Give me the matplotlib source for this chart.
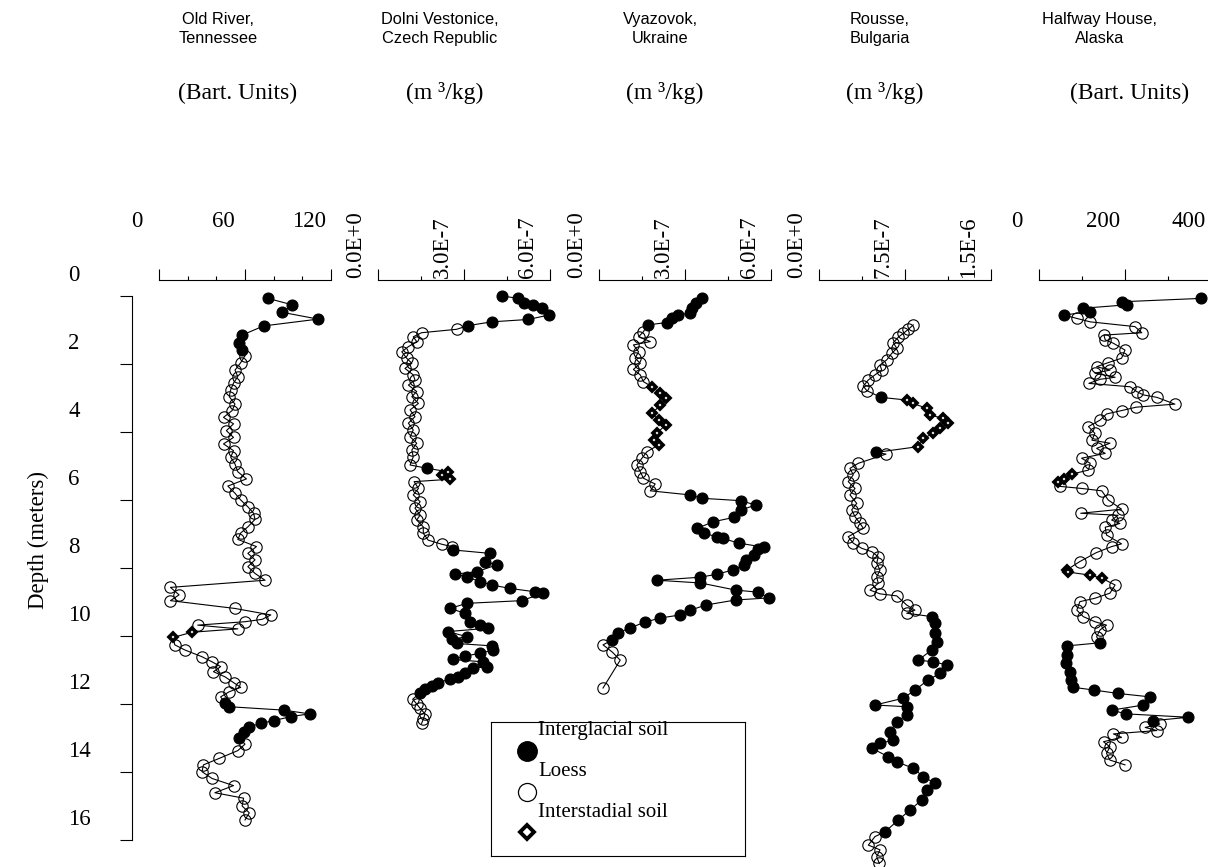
import matplotlib.pyplot as plt
from matplotlib.ticker import MultipleLocator
from matplotlib.transforms import ScaledTranslation

plt.rcParams['font.family'] = 'Liberation Serif'

W, H = 1208, 867

# kind codes: G = interglacial soil, L = loess, S = interstadial soil
old_depth = [0.07, 0.26, 0.48, 0.68, 0.88, 1.15, 1.37, 1.59,
             1.76, 1.96, 2.18, 2.37, 2.56, 2.76, 2.96, 3.18, 3.37, 3.57,
             3.76, 3.96, 4.16, 4.35, 4.55, 4.74, 4.94, 5.17, 5.38, 5.59,
             5.80, 6.00, 6.20, 6.39, 6.57, 6.79, 6.97, 7.16, 7.37, 7.57,
             7.76, 7.96, 8.16, 8.36,
             8.57, 8.79, 8.96, 9.19, 9.38, 9.51, 9.58, 9.68, 9.79,
             9.89, 10.04,
             10.26, 10.41, 10.61, 10.76, 10.90, 11.05, 11.20, 11.37, 11.51, 11.64, 11.79,
             11.98, 12.08, 12.18, 12.29, 12.37, 12.49, 12.57, 12.67, 12.81, 13.01,
             13.18, 13.37, 13.60, 13.79, 13.99, 14.19, 14.40, 14.61, 14.77, 15.00, 15.20, 15.41]
old_value = [76, 93, 86, 111, 73, 58, 56, 58,
             60, 57, 53, 55, 52, 50, 49, 53, 51, 45,
             52, 47, 52, 45, 52, 50, 53, 55, 61, 48,
             53, 57, 62, 66, 67, 62, 57, 55, 68, 62,
             67, 62, 67, 74,
             8, 14, 8, 53, 78, 72, 60, 27, 55,
             23, 10,
             11, 18, 30, 37, 43, 38, 46, 52, 57, 49, 43,
             46, 49, 87, 105, 92, 80, 71, 63, 59, 56,
             60, 55, 42, 31, 30, 37, 52, 39, 59, 58, 63, 60]
old_kind = "G" * 8 + "L" * 43 + "S" * 2 + "L" * 11 + "G" * 10 + "L" * 12

# magnetic susceptibility in units of 1E-7 m3/kg
dolni_depth = [0.00, 0.07, 0.20, 0.26, 0.36, 0.56, 0.69, 0.76, 0.87,
               0.98, 1.08, 1.20, 1.34, 1.49, 1.64, 1.83, 1.98, 2.13, 2.32,
               2.47, 2.62, 2.81, 2.96, 3.16, 3.35, 3.55, 3.74, 3.94, 4.14,
               4.33, 4.53, 4.73, 4.97,
               5.07,
               5.17, 5.26, 5.39,
               5.46, 5.66, 5.85, 6.05, 6.24, 6.44, 6.59, 6.79, 6.98, 7.18, 7.30, 7.37,
               7.47, 7.57, 7.81, 7.91, 8.11, 8.18, 8.26, 8.40, 8.50, 8.60,
               8.70, 8.74, 8.96, 9.04, 9.19, 9.33, 9.58, 9.68, 9.77, 9.87,
               10.02, 10.10, 10.22, 10.29, 10.41, 10.51, 10.59, 10.69, 10.76, 10.90,
               10.95, 11.10, 11.20, 11.27, 11.37, 11.47, 11.57, 11.67,
               11.86, 12.00, 12.13, 12.29, 12.45, 12.57]
dolni_chi = [4.34, 4.89, 5.09, 5.42, 5.71, 5.96, 5.24, 3.97, 3.15,
             2.74, 1.52, 1.23, 1.35, 1.06, 0.83, 1.00, 1.18, 0.94, 1.23,
             1.29, 1.06, 1.35, 1.18, 1.41, 1.12, 1.29, 1.06, 1.23, 1.12,
             1.35, 1.18, 1.23, 1.12,
             1.72,
             2.45, 2.22, 2.51,
             1.26, 1.41, 1.23, 1.47, 1.29, 1.47, 1.35, 1.58, 1.58, 1.75, 2.22, 2.57,
             2.63, 3.91, 3.73, 4.14, 3.44, 2.69, 3.09, 3.56, 3.97, 4.60,
             5.48, 5.77, 5.01, 3.09, 2.51, 3.03, 3.21, 3.56, 3.85, 2.45,
             3.09, 2.57, 2.74, 3.97, 4.02, 3.56, 3.03, 2.63, 3.67, 3.79,
             3.32, 3.03, 2.80, 2.51, 2.10, 1.87, 1.64, 1.47,
             1.21, 1.35, 1.47, 1.64, 1.58, 1.52]
dolni_kind = "G" * 9 + "L" * 24 + "G" + "S" * 3 + "L" * 12 + "G" * 38 + "L" * 6

vyaz_depth = [0.07, 0.20, 0.36, 0.51, 0.56, 0.66, 0.78, 0.85,
              1.05, 1.20, 1.34, 1.44, 1.64, 1.83, 1.98, 2.16, 2.32, 2.52,
              2.67, 2.86, 3.01, 3.21, 3.45, 3.65, 3.79, 4.04, 4.24, 4.38,
              4.58, 4.77, 4.97, 5.17, 5.36, 5.53, 5.73,
              5.85, 5.95, 6.02, 6.15, 6.29, 6.51, 6.64, 6.83, 6.98, 7.08,
              7.13, 7.27, 7.39, 7.45, 7.62, 7.76, 7.91, 8.06, 8.18, 8.27,
              8.36, 8.44, 8.65, 8.71, 8.88, 8.94, 9.09, 9.24, 9.38, 9.47,
              9.59, 9.76, 9.91, 10.12,
              10.26, 10.47, 10.71, 11.53]
vyaz_chi = [3.60, 3.40, 3.25, 3.19, 2.75, 2.55, 2.37, 1.70,
            1.55, 1.38, 1.79, 1.20, 1.38, 1.26, 1.44, 1.20, 1.44, 1.55,
            1.85, 2.14, 2.32, 2.14, 1.85, 2.08, 2.32, 2.02, 1.91, 2.08,
            1.67, 1.50, 1.32, 1.44, 1.55, 1.96, 1.79,
            3.17, 3.60, 4.95, 5.47, 4.95, 4.71, 3.99, 3.43, 3.66, 4.11,
            4.31, 4.89, 5.77, 5.53, 5.41, 5.12, 5.06, 4.66, 4.13, 3.54,
            2.02, 3.54, 4.77, 5.54, 5.93, 4.77, 3.72, 3.19, 2.84, 2.14,
            1.61, 1.09, 0.67, 0.46,
            0.14, 0.46, 0.74, 0.14]
vyaz_kind = "G" * 8 + "L" * 10 + "S" * 10 + "L" * 7 + "G" * 34 + "L" * 4

rousse_depth = [0.85, 0.98, 1.10, 1.21, 1.37, 1.54, 1.69, 1.88, 2.03, 2.18, 2.32, 2.47, 2.65, 2.78,
                2.98,
                3.06, 3.16, 3.30, 3.50, 3.60, 3.74, 3.89, 4.04, 4.19, 4.43,
                4.60,
                4.65, 4.92, 5.07, 5.26, 5.46, 5.66, 5.85, 6.10, 6.29, 6.49,
                6.69, 6.83, 7.08, 7.27, 7.42, 7.52, 7.67, 7.86, 8.06, 8.26,
                8.45, 8.65, 8.76, 8.82, 9.09, 9.24, 9.33,
                9.43, 9.63, 9.92, 10.17, 10.41, 10.71, 10.76, 10.85, 11.10, 11.29,
                11.59, 11.83, 12.03, 12.08, 12.32, 12.52, 12.81, 13.06, 13.16, 13.30,
                13.55, 13.70, 13.89, 14.14, 14.33, 14.53, 14.82, 15.12, 15.41, 15.76,
                15.90, 16.15, 16.29, 16.49, 16.69]
rousse_chi = [8.22, 7.79, 7.35, 6.92, 6.48, 6.78, 6.34, 5.90, 5.32, 5.47, 4.88, 4.30, 3.86, 4.16,
              5.38,
              7.65, 8.17, 9.39, 9.68, 10.84, 11.28, 10.55, 9.97, 9.10, 8.66,
              4.97,
              5.84, 3.43, 2.70, 2.99, 2.55, 3.14, 2.70, 3.29, 2.85, 3.14,
              3.58, 3.86, 2.55, 2.99, 3.72, 4.60, 5.17, 5.03, 5.32, 5.03,
              5.17, 4.45, 5.32, 6.78, 7.65, 8.37, 7.65,
              9.83, 10.12, 10.12, 10.26, 9.83, 8.66, 9.97, 11.14, 10.55, 9.53,
              8.37, 7.35, 4.88, 7.65, 7.65, 6.78, 6.19, 6.48, 5.32, 4.60,
              6.04, 6.78, 8.22, 9.10, 10.12, 9.39, 8.96, 7.94, 6.92, 5.76,
              4.88, 4.30, 5.32, 5.03, 5.26]
rousse_kind = "L" * 14 + "G" + "S" * 10 + "G" + "L" * 27 + "G" * 30 + "L" * 5

halfway_depth = [0.07, 0.17, 0.26, 0.36, 0.46, 0.56,
                 0.66, 0.76, 0.90, 1.08, 1.15, 1.29, 1.39, 1.59, 1.83, 1.96,
                 2.08, 2.18, 2.27, 2.39, 2.45, 2.57, 2.67, 2.81, 2.91, 2.98,
                 3.18, 3.27, 3.37, 3.47, 3.65, 3.84, 4.04, 4.24, 4.33, 4.48,
                 4.63, 4.77, 4.92, 5.12,
                 5.24, 5.39, 5.46,
                 5.60, 5.66, 5.73, 6.00, 6.27, 6.39, 6.45, 6.59, 6.69, 6.80,
                 7.03, 7.29, 7.37, 7.55, 7.81,
                 8.06, 8.12, 8.21, 8.30,
                 8.50, 8.74, 8.89, 8.99, 9.24, 9.43, 9.58, 9.68, 9.82, 10.02,
                 10.20, 10.29, 10.56, 10.80, 11.05, 11.29, 11.51, 11.59, 11.69, 11.79,
                 12.03, 12.18, 12.29, 12.39, 12.49,
                 12.59, 12.69, 12.78, 12.88, 12.98, 13.11, 13.26, 13.45, 13.65, 13.79]
halfway_value = [377, 192, 204, 102, 119, 58,
                 88, 119, 223, 239, 151, 154, 173, 200, 192, 161,
                 134, 165, 130, 177, 142, 116, 212, 227, 243, 274,
                 316, 226, 192, 157, 142, 115, 130, 123, 165, 134,
                 154, 99, 119, 115,
                 76, 57, 45,
                 49, 99, 146, 161, 192, 97, 184, 169, 188, 154,
                 157, 192, 169, 133, 95,
                 64, 68, 119, 146,
                 177, 165, 130, 95, 88, 103, 130, 157, 142, 134,
                 142, 66, 64, 63, 71, 74, 80, 128, 184, 258,
                 243, 169, 202, 347, 266,
                 281, 247, 274, 173, 192, 150, 165, 157, 165, 200]
halfway_kind = ("G" * 6 + "L" * 34 + "S" * 3 + "L" * 15 + "S" * 4 +
                "L" * 10 + "G" * 15 + "L" * 10)

site_titles = ["Old River,\nTennessee", "Dolni Vestonice,\nCzech Republic",
               "Vyazovok,\nUkraine", "Rousse,\nBulgaria", "Halfway House,\nAlaska"]
site_units = ["(Bart. Units)", "(m \u00b3/kg)", "(m \u00b3/kg)", "(m \u00b3/kg)", "(Bart. Units)"]
site_depths = [old_depth, dolni_depth, vyaz_depth, rousse_depth, halfway_depth]
site_values = [old_value, dolni_chi, vyaz_chi, rousse_chi, halfway_value]
site_kinds = [old_kind, dolni_kind, vyaz_kind, rousse_kind, halfway_kind]
x_max = [120, 6, 6, 15, 400]
x_ticks = [[0, 60, 120], [0, 3, 6], [0, 3, 6], [0, 7.5, 15], [0, 200, 400]]
x_ticklabels = [["0", "60", "120"], ["0.0E+0", "3.0E-7", "6.0E-7"],
                ["0.0E+0", "3.0E-7", "6.0E-7"], ["0.0E+0", "7.5E-7", "1.5E-6"],
                ["0", "200", "400"]]
x_minor = [20, 1.5, 1.5, 3.75, 100]
depth_ticks = [0, 2, 4, 6, 8, 10, 12, 14, 16]
legend_labels = ["Interglacial soil", "Loess", "Interstadial soil"]

# layout (pixels)
panel_left = [159, 378, 599, 819, 1039]
panel_width = 172
title_x = [218, 440, 660, 880, 1100]
units_x = [238, 445, 665, 885, 1130]
AX_TOP, AX_BOTTOM = 280, 867
D0_Y, PX_PER_M = 296, 34.0
DEPTH_X = 132

fig = plt.figure(figsize=(W / 100, H / 100), dpi=100)


def frac(l, t, r, b):
    return [l / W, 1 - b / H, (r - l) / W, (b - t) / H]


def shift(dx, dy):
    return ScaledTranslation(dx / 100.0, dy / 100.0, fig.dpi_scale_trans)


ylim = ((AX_BOTTOM - D0_Y) / PX_PER_M, (AX_TOP - D0_Y) / PX_PER_M)

styles = {
    "L": dict(marker="o", ms=8.2, mfc="none", mec="black", mew=0.8),
    "G": dict(marker="o", ms=7.9, mfc="black", mec="black", mew=0.8),
    "S": dict(marker="D", ms=4.3, mfc="white", mec="black", mew=2.6),
}

for i in range(5):
    ax = fig.add_axes(frac(panel_left[i], AX_TOP, panel_left[i] + panel_width, AX_BOTTOM))
    d, v, k = site_depths[i], site_values[i], site_kinds[i]
    ax.plot(v, d, color="black", lw=0.8, zorder=2, clip_on=False)
    for code in ["L", "G", "S"]:
        xs = [vv for vv, kk in zip(v, k) if kk == code]
        ys = [dd for dd, kk in zip(d, k) if kk == code]
        ax.plot(xs, ys, ls="none", zorder=3, clip_on=False, **styles[code])

    ax.set_xlim(0, x_max[i])
    ax.set_ylim(*ylim)
    ax.xaxis.tick_top()
    ax.set_yticks([])
    for s in ["left", "right", "bottom"]:
        ax.spines[s].set_visible(False)
    ax.spines["top"].set_linewidth(0.8)
    rot = 90 if i in (1, 2, 3) else 0
    ax.set_xticks(x_ticks[i])
    ax.set_xticklabels(x_ticklabels[i], rotation=rot, fontsize=16.5)
    ax.xaxis.set_minor_locator(MultipleLocator(x_minor[i]))
    ax.tick_params(axis="x", which="major", direction="out", length=8.2, width=0.8, pad=0)
    ax.tick_params(axis="x", which="minor", direction="out", length=3.0, width=0.8)
    dy = -9 if rot else 37
    for t in ax.xaxis.get_major_ticks():
        t.label2.set_transform(t.label2.get_transform() + shift(-22, dy))

    fig.text(title_x[i] / W, 1 - 29 / H, site_titles[i], ha="center", va="center",
             family="Liberation Sans", fontsize=11.8, linespacing=1.3)
    fig.text(units_x[i] / W, 1 - 93 / H, site_units[i], ha="center", va="center",
             fontsize=17)

# depth axis
axd = fig.add_axes(frac(DEPTH_X, AX_TOP, DEPTH_X + 1, AX_BOTTOM))
axd.set_ylim(*ylim)
axd.set_xticks([])
for s in ["top", "right", "bottom"]:
    axd.spines[s].set_visible(False)
axd.spines["left"].set_bounds(0, 16)
axd.spines["left"].set_linewidth(0.8)
axd.patch.set_visible(False)
axd.set_yticks(depth_ticks)
axd.set_yticklabels([str(t) for t in depth_ticks], fontsize=16.5)
axd.tick_params(axis="y", direction="out", length=8.6, width=0.8, pad=0)
for t in axd.yaxis.get_major_ticks():
    t.label1.set_horizontalalignment("left")
    t.label1.set_transform(t.label1.get_transform() + shift(-52, 23))

fig.text(38 / W, 1 - 540 / H, "Depth (meters)", rotation=90, ha="center", va="center",
         fontsize=16.5)

# legend box
lax = fig.add_axes(frac(491, 722, 745, 856))
lax.set_xlim(0, 1)
lax.set_ylim(0, 1)
lax.set_xticks([])
lax.set_yticks([])
for s in lax.spines.values():
    s.set_linewidth(0.8)
leg_styles = [dict(marker="o", ms=14, mfc="black", mec="black"),
              dict(marker="o", ms=13, mfc="none", mec="black", mew=0.9),
              dict(marker="D", ms=7.5, mfc="white", mec="black", mew=2.8)]
marker_y = [0.784, 0.478, 0.179]
text_y = [0.94, 0.627, 0.328]
for lab, st, my, ty in zip(legend_labels, leg_styles, marker_y, text_y):
    lax.plot([0.142], [my], ls="none", clip_on=False, **st)
    lax.text(0.185, ty, lab, ha="left", va="center", fontsize=15)

fig.savefig("out.png", dpi=100)
